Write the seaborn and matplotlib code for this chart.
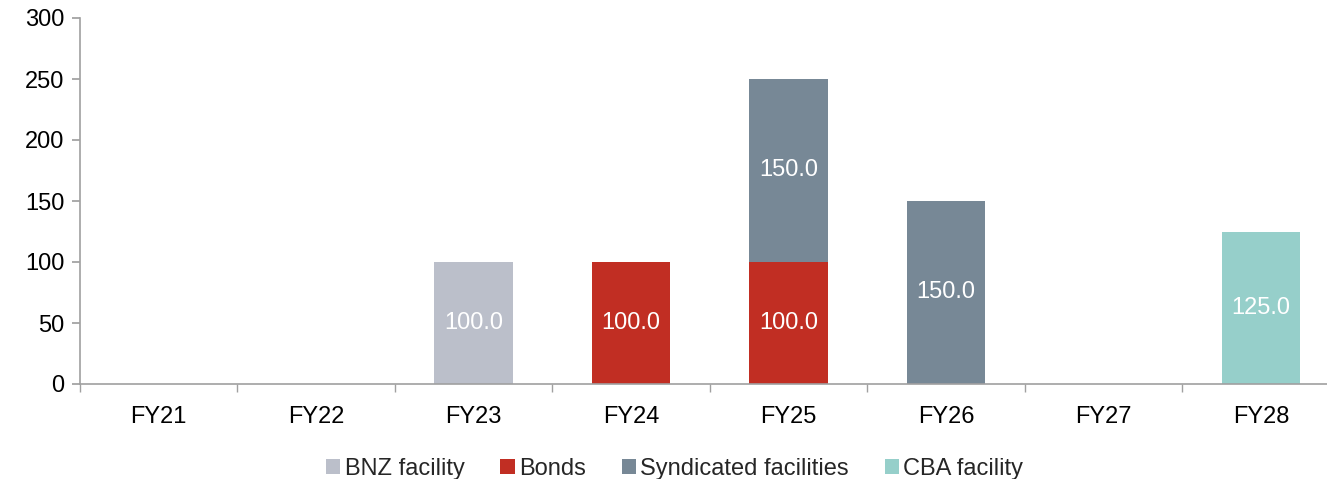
import numpy as np
import pandas as pd
import matplotlib
matplotlib.use("Agg")
import matplotlib.pyplot as plt
import seaborn as sns

years = ["FY21", "FY22", "FY23", "FY24", "FY25", "FY26", "FY27", "FY28"]
series = ["BNZ facility", "Bonds", "Syndicated facilities", "CBA facility"]
bnz = [0, 0, 100, 0, 0, 0, 0, 0]
bonds = [0, 0, 0, 100, 100, 0, 0, 0]
syndicated = [0, 0, 0, 0, 150, 150, 0, 0]
cba = [0, 0, 0, 0, 0, 0, 0, 125]
colors = ["#BBBFCA", "#C12E23", "#778896", "#96CFCA"]

sns.set_theme(style="white")
plt.rcParams["font.family"] = ["Liberation Sans", "DejaVu Sans"]

df = pd.DataFrame({"Year": years, "BNZ facility": bnz, "Bonds": bonds,
                   "Syndicated facilities": syndicated, "CBA facility": cba})
cum = df[series].cumsum(axis=1)

fig = plt.figure(figsize=(13.27, 4.79), dpi=100)
ax = fig.add_axes([80 / 1327, 95 / 479, 1 - 80 / 1327, (384 - 18) / 479])

# stack by drawing cumulative totals from the top down
for name, col in reversed(list(zip(series, colors))):
    sns.barplot(x=df["Year"], y=cum[name], color=col, width=0.5, ax=ax,
                saturation=1, label=name, edgecolor="none")

# segment labels
for i in range(len(years)):
    base = 0
    for name in series:
        v = df[name][i]
        if v > 0:
            ax.text(i, base + v / 2, f"{v:.1f}", ha="center", va="center",
                    color="white", fontsize=17)
        base += v

ax.set_ylim(0, 300)
ax.set_xlim(-0.5, 7.42)
ax.set_yticks(range(0, 301, 50))
ax.set_xlabel("")
ax.set_ylabel("")
ax.tick_params(axis="y", labelsize=17, length=6, color="#A0A0A0", left=True,
               pad=5, labelcolor="black")
ax.tick_params(axis="x", labelsize=17, length=0, pad=16, labelcolor="black")
ax.set_xticks(np.arange(-0.5, 7.5, 1), minor=True)
ax.tick_params(axis="x", which="minor", length=6, color="#A0A0A0", bottom=True)
for s in ["top", "right"]:
    ax.spines[s].set_visible(False)
for s in ["left", "bottom"]:
    ax.spines[s].set_color("#A0A0A0")
    ax.spines[s].set_linewidth(1.2)

handles, labels = ax.get_legend_handles_labels()
order = [labels.index(n) for n in series]
ax.legend([handles[k] for k in order], series, loc="lower center",
          bbox_to_anchor=(0.477, -0.32), ncol=4, frameon=False, fontsize=17,
          handlelength=0.6, handleheight=0.6, handletextpad=0.2, columnspacing=1.5)

fig.savefig("out.png", dpi=100)
